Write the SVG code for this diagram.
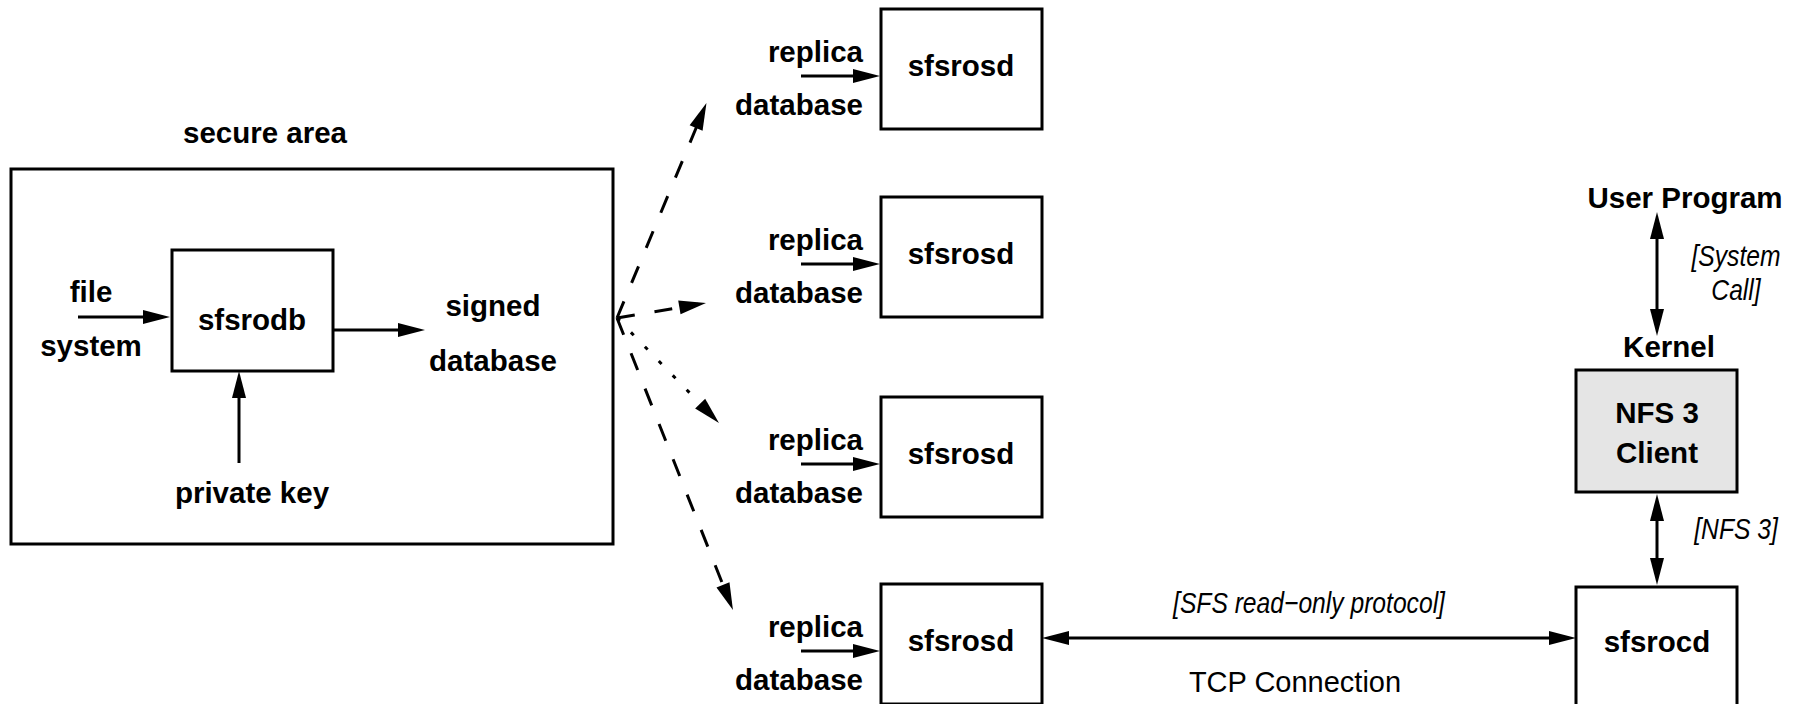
<svg xmlns="http://www.w3.org/2000/svg" width="1801" height="704" viewBox="0 0 1801 704">
<style>
.box{fill:#fff;stroke:#000;stroke-width:3}
.gray{fill:#e5e5e5;stroke:#000;stroke-width:3}
.b{font-family:"Liberation Sans",Arial,sans-serif;font-weight:bold;font-size:29.5px;fill:#000}
.r{font-family:"Liberation Sans",Arial,sans-serif;font-size:29px;fill:#000}
.i{font-family:"Liberation Sans",Arial,sans-serif;font-style:italic;font-size:29px;fill:#000}
.m{text-anchor:middle}
.e{text-anchor:end}
.ln{fill:none;stroke:#000;stroke-width:3;marker-end:url(#ah)}
.dbl{marker-start:url(#ah)}
.dash{stroke-dasharray:18 20}
.dot{stroke-dasharray:4 16}
</style>
<defs>
<marker id="ah" markerUnits="userSpaceOnUse" markerWidth="28" markerHeight="14" refX="19" refY="7" orient="auto-start-reverse" overflow="visible">
<path d="M0,0 L27,7 L0,14 Z" fill="#000"/>
</marker>
</defs>

<g id="secure-area">
<rect class="box" x="11" y="169" width="602" height="375"/>
<text class="b m" x="265" y="143">secure area</text>
</g>
<g id="file-system">
<text class="b m" x="91" y="302">file</text>
<text class="b m" x="91" y="356">system</text>
</g>
<g id="sfsrodb">
<rect class="box" x="172" y="250" width="161" height="121"/>
<text class="b m" x="252" y="330">sfsrodb</text>
</g>
<g id="signed-database">
<text class="b m" x="493" y="316">signed</text>
<text class="b m" x="493" y="371">database</text>
</g>
<g id="private-key">
<text class="b m" x="252" y="503">private key</text>
</g>

<g id="replica1">
<text class="b e" x="863" y="62">replica</text>
<text class="b e" x="863" y="115">database</text>
</g>
<g id="sfsrosd1">
<rect class="box" x="881" y="9" width="161" height="120"/>
<text class="b m" x="961" y="76">sfsrosd</text>
</g>
<g id="replica2">
<text class="b e" x="863" y="250">replica</text>
<text class="b e" x="863" y="303">database</text>
</g>
<g id="sfsrosd2">
<rect class="box" x="881" y="197" width="161" height="120"/>
<text class="b m" x="961" y="264">sfsrosd</text>
</g>
<g id="replica3">
<text class="b e" x="863" y="450">replica</text>
<text class="b e" x="863" y="503">database</text>
</g>
<g id="sfsrosd3">
<rect class="box" x="881" y="397" width="161" height="120"/>
<text class="b m" x="961" y="464">sfsrosd</text>
</g>
<g id="replica4">
<text class="b e" x="863" y="637">replica</text>
<text class="b e" x="863" y="690">database</text>
</g>
<g id="sfsrosd4">
<rect class="box" x="881" y="584" width="161" height="120"/>
<text class="b m" x="961" y="651">sfsrosd</text>
</g>

<g id="user-program">
<text class="b m" x="1685" y="208">User Program</text>
</g>
<g id="kernel">
<text class="b m" x="1669" y="357">Kernel</text>
</g>
<g id="nfs3-client">
<rect class="gray" x="1576" y="370" width="161" height="122"/>
<text class="b m" x="1657" y="423">NFS 3</text>
<text class="b m" x="1657" y="463">Client</text>
</g>
<g id="sfsrocd">
<rect class="box" x="1576" y="587" width="161" height="120"/>
<text class="b m" x="1657" y="652">sfsrocd</text>
</g>

<g id="connectors">
<line class="ln" x1="78" y1="317" x2="162" y2="317"/>
<line class="ln" x1="333" y1="330" x2="417" y2="330"/>
<line class="ln" x1="239" y1="463" x2="239" y2="379"/>
<line class="ln" x1="801" y1="76" x2="872" y2="76"/>
<line class="ln" x1="801" y1="264" x2="872" y2="264"/>
<line class="ln" x1="801" y1="464" x2="872" y2="464"/>
<line class="ln" x1="801" y1="651" x2="872" y2="651"/>
<line class="ln dash" x1="617" y1="318" x2="703.4" y2="110.4"/>
<line class="ln dash" x1="617" y1="318" x2="698.1" y2="304.3"/>
<line class="ln dot" x1="617" y1="318" x2="713.4" y2="417.3"/>
<line class="ln dash" x1="617" y1="318" x2="730" y2="602.6"/>
<line class="ln dbl" x1="1050" y1="638" x2="1568" y2="638"/>
<line class="ln dbl" x1="1657" y1="220" x2="1657" y2="328"/>
<line class="ln dbl" x1="1657" y1="502" x2="1657" y2="577"/>
<text class="i m" transform="translate(1736,266) scale(0.85,1)">[System</text>
<text class="i m" transform="translate(1736,300) scale(0.85,1)">Call]</text>
<text class="i m" transform="translate(1736,539) scale(0.85,1)">[NFS 3]</text>
<text class="i m" transform="translate(1309,613) scale(0.85,1)">[SFS read−only protocol]</text>
<text class="r m" x="1295" y="692">TCP Connection</text>
</g>
</svg>
